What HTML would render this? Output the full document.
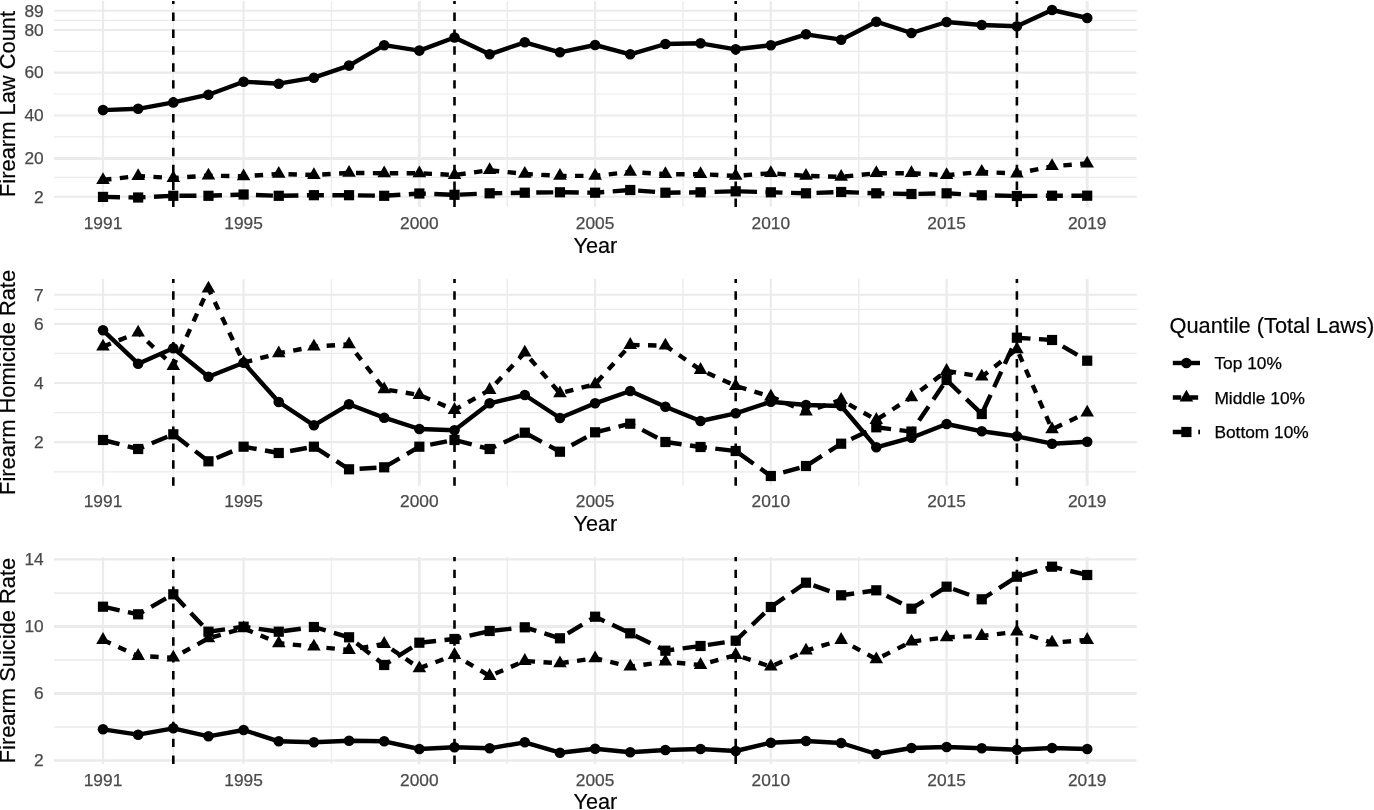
<!DOCTYPE html>
<html lang="en"><head><meta charset="utf-8"><title>Firearm laws, homicide and suicide rates by quantile</title>
<style>html,body{margin:0;padding:0;background:#fff}body{width:1374px;height:810px;overflow:hidden}svg{display:block}text{font-family:"Liberation Sans", sans-serif}.at{font-size:17.33px;fill:#4a4a4a;stroke:#4a4a4a;stroke-width:.25px}.tt{font-size:21.67px;fill:#000;stroke:#000;stroke-width:.2px}.gM{stroke:#ebebeb;fill:none}.ln{stroke:#000;stroke-width:4.40;fill:none;stroke-linejoin:round;stroke-linecap:butt}.vl{stroke:#000;stroke-width:2.6;fill:none;stroke-dasharray:8.45 8.45}.d2{stroke-dasharray:8.45 8.45}.d4{stroke-dasharray:17.00 8.50}</style></head><body>
<svg width="1374" height="810" viewBox="0 0 1374 810">
<rect width="1374" height="810" fill="#fff"/>
<g>
<path class="gM" stroke-width="2" d="M54 10.7H1136.7"/>
<path class="gM" stroke-width="1.2" d="M54 20.3H1136.7"/>
<path class="gM" stroke-width="2.2" d="M54 30H1136.7"/>
<path class="gM" stroke-width="1.2" d="M54 51.3H1136.7"/>
<path class="gM" stroke-width="2.2" d="M54 72.6H1136.7"/>
<path class="gM" stroke-width="1.2" d="M54 94H1136.7"/>
<path class="gM" stroke-width="2" d="M54 115.6H1136.7"/>
<path class="gM" stroke-width="1.2" d="M54 136.8H1136.7"/>
<path class="gM" stroke-width="3.2" d="M54 158.5H1136.7"/>
<path class="gM" stroke-width="1.2" d="M54 177.3H1136.7"/>
<path class="gM" stroke-width="2" d="M54 196.7H1136.7"/>
<path class="gM" stroke-width="1.3" d="M173.3 1V206.9"/>
<path class="gM" stroke-width="1.3" d="M331.48 1V206.9"/>
<path class="gM" stroke-width="1.3" d="M507.22 1V206.9"/>
<path class="gM" stroke-width="1.3" d="M682.98 1V206.9"/>
<path class="gM" stroke-width="1.3" d="M858.73 1V206.9"/>
<path class="gM" stroke-width="1.3" d="M1016.9 1V206.9"/>
<path class="gM" stroke-width="2.2" d="M103 1V206.9"/>
<path class="gM" stroke-width="2.2" d="M243.6 1V206.9"/>
<path class="gM" stroke-width="2.9" d="M419.35 1V206.9"/>
<path class="gM" stroke-width="2.2" d="M595.1 1V206.9"/>
<path class="gM" stroke-width="2.2" d="M770.85 1V206.9"/>
<path class="gM" stroke-width="2.2" d="M946.6 1V206.9"/>
<path class="gM" stroke-width="2.9" d="M1087.2 1V206.9"/>
<path class="vl" d="M173.3 206.9V1"/>
<path class="vl" d="M454.5 206.9V1"/>
<path class="vl" d="M735.7 206.9V1"/>
<path class="vl" d="M1016.9 206.9V1"/>
<polyline class="ln" points="103,110.1 138.15,108.8 173.3,102.4 208.45,94.7 243.6,81.7 278.75,83.7 313.9,77.7 349.05,65.6 384.2,45.2 419.35,50.6 454.5,37.5 489.65,54.3 524.8,42.3 559.95,52.3 595.1,45 630.25,54.3 665.4,44 700.55,43.3 735.7,49.3 770.85,45.3 806,34.3 841.15,39.7 876.3,21.7 911.45,33 946.6,22 981.75,25 1016.9,26.3 1052.05,10 1087.2,18"/>
<polyline class="ln d2" points="103,180 138.15,176 173.3,178 208.45,175.6 243.6,176.3 278.75,173.9 313.9,175 349.05,172.9 384.2,173.3 419.35,173.3 454.5,175 489.65,170.2 524.8,173.9 559.95,175.9 595.1,175.9 630.25,171.9 665.4,174.2 700.55,174.2 735.7,175.9 770.85,173.2 806,175.9 841.15,176.9 876.3,173.2 911.45,173.2 946.6,175.2 981.75,171.9 1016.9,173.5 1052.05,166.2 1087.2,163.5"/>
<polyline class="ln d4" points="103,196.9 138.15,197.5 173.3,195.8 208.45,195.8 243.6,194.5 278.75,195.8 313.9,195.2 349.05,195.2 384.2,195.8 419.35,193.5 454.5,194.8 489.65,193.3 524.8,192.7 559.95,192.3 595.1,192.7 630.25,190 665.4,192.7 700.55,192.3 735.7,191.3 770.85,192.3 806,193.3 841.15,192 876.3,193.3 911.45,194 946.6,193.3 981.75,195.3 1016.9,196 1052.05,195.7 1087.2,195.7"/>
<g fill="#000"><circle cx="103" cy="110.1" r="5.3"/><circle cx="138.15" cy="108.8" r="5.3"/><circle cx="173.3" cy="102.4" r="5.3"/><circle cx="208.45" cy="94.7" r="5.3"/><circle cx="243.6" cy="81.7" r="5.3"/><circle cx="278.75" cy="83.7" r="5.3"/><circle cx="313.9" cy="77.7" r="5.3"/><circle cx="349.05" cy="65.6" r="5.3"/><circle cx="384.2" cy="45.2" r="5.3"/><circle cx="419.35" cy="50.6" r="5.3"/><circle cx="454.5" cy="37.5" r="5.3"/><circle cx="489.65" cy="54.3" r="5.3"/><circle cx="524.8" cy="42.3" r="5.3"/><circle cx="559.95" cy="52.3" r="5.3"/><circle cx="595.1" cy="45" r="5.3"/><circle cx="630.25" cy="54.3" r="5.3"/><circle cx="665.4" cy="44" r="5.3"/><circle cx="700.55" cy="43.3" r="5.3"/><circle cx="735.7" cy="49.3" r="5.3"/><circle cx="770.85" cy="45.3" r="5.3"/><circle cx="806" cy="34.3" r="5.3"/><circle cx="841.15" cy="39.7" r="5.3"/><circle cx="876.3" cy="21.7" r="5.3"/><circle cx="911.45" cy="33" r="5.3"/><circle cx="946.6" cy="22" r="5.3"/><circle cx="981.75" cy="25" r="5.3"/><circle cx="1016.9" cy="26.3" r="5.3"/><circle cx="1052.05" cy="10" r="5.3"/><circle cx="1087.2" cy="18" r="5.3"/></g>
<g fill="#000"><path d="M103 172.16L109.79 183.92L96.21 183.92Z"/><path d="M138.15 168.16L144.94 179.92L131.36 179.92Z"/><path d="M173.3 170.16L180.09 181.92L166.51 181.92Z"/><path d="M208.45 167.76L215.24 179.52L201.66 179.52Z"/><path d="M243.6 168.46L250.39 180.22L236.81 180.22Z"/><path d="M278.75 166.06L285.54 177.82L271.96 177.82Z"/><path d="M313.9 167.16L320.69 178.92L307.11 178.92Z"/><path d="M349.05 165.06L355.84 176.82L342.26 176.82Z"/><path d="M384.2 165.46L390.99 177.22L377.41 177.22Z"/><path d="M419.35 165.46L426.14 177.22L412.56 177.22Z"/><path d="M454.5 167.16L461.29 178.92L447.71 178.92Z"/><path d="M489.65 162.36L496.44 174.12L482.86 174.12Z"/><path d="M524.8 166.06L531.59 177.82L518.01 177.82Z"/><path d="M559.95 168.06L566.74 179.82L553.16 179.82Z"/><path d="M595.1 168.06L601.89 179.82L588.31 179.82Z"/><path d="M630.25 164.06L637.04 175.82L623.46 175.82Z"/><path d="M665.4 166.36L672.19 178.12L658.61 178.12Z"/><path d="M700.55 166.36L707.34 178.12L693.76 178.12Z"/><path d="M735.7 168.06L742.49 179.82L728.91 179.82Z"/><path d="M770.85 165.36L777.64 177.12L764.06 177.12Z"/><path d="M806 168.06L812.79 179.82L799.21 179.82Z"/><path d="M841.15 169.06L847.94 180.82L834.36 180.82Z"/><path d="M876.3 165.36L883.09 177.12L869.51 177.12Z"/><path d="M911.45 165.36L918.24 177.12L904.66 177.12Z"/><path d="M946.6 167.36L953.39 179.12L939.81 179.12Z"/><path d="M981.75 164.06L988.54 175.82L974.96 175.82Z"/><path d="M1016.9 165.66L1023.69 177.42L1010.11 177.42Z"/><path d="M1052.05 158.36L1058.84 170.12L1045.26 170.12Z"/><path d="M1087.2 155.66L1093.99 167.42L1080.41 167.42Z"/></g>
<g fill="#000"><rect x="97.9" y="191.8" width="10.2" height="10.2"/><rect x="133.05" y="192.4" width="10.2" height="10.2"/><rect x="168.2" y="190.7" width="10.2" height="10.2"/><rect x="203.35" y="190.7" width="10.2" height="10.2"/><rect x="238.5" y="189.4" width="10.2" height="10.2"/><rect x="273.65" y="190.7" width="10.2" height="10.2"/><rect x="308.8" y="190.1" width="10.2" height="10.2"/><rect x="343.95" y="190.1" width="10.2" height="10.2"/><rect x="379.1" y="190.7" width="10.2" height="10.2"/><rect x="414.25" y="188.4" width="10.2" height="10.2"/><rect x="449.4" y="189.7" width="10.2" height="10.2"/><rect x="484.55" y="188.2" width="10.2" height="10.2"/><rect x="519.7" y="187.6" width="10.2" height="10.2"/><rect x="554.85" y="187.2" width="10.2" height="10.2"/><rect x="590" y="187.6" width="10.2" height="10.2"/><rect x="625.15" y="184.9" width="10.2" height="10.2"/><rect x="660.3" y="187.6" width="10.2" height="10.2"/><rect x="695.45" y="187.2" width="10.2" height="10.2"/><rect x="730.6" y="186.2" width="10.2" height="10.2"/><rect x="765.75" y="187.2" width="10.2" height="10.2"/><rect x="800.9" y="188.2" width="10.2" height="10.2"/><rect x="836.05" y="186.9" width="10.2" height="10.2"/><rect x="871.2" y="188.2" width="10.2" height="10.2"/><rect x="906.35" y="188.9" width="10.2" height="10.2"/><rect x="941.5" y="188.2" width="10.2" height="10.2"/><rect x="976.65" y="190.2" width="10.2" height="10.2"/><rect x="1011.8" y="190.9" width="10.2" height="10.2"/><rect x="1046.95" y="190.6" width="10.2" height="10.2"/><rect x="1082.1" y="190.6" width="10.2" height="10.2"/></g>
<text class="at" text-anchor="end" x="43.7" y="16.5">89</text>
<text class="at" text-anchor="end" x="43.7" y="35.8">80</text>
<text class="at" text-anchor="end" x="43.7" y="78.4">60</text>
<text class="at" text-anchor="end" x="43.7" y="121.4">40</text>
<text class="at" text-anchor="end" x="43.7" y="163.9">20</text>
<text class="at" text-anchor="end" x="43.7" y="202.5">2</text>
<text class="at" text-anchor="middle" x="103" y="228.75">1991</text>
<text class="at" text-anchor="middle" x="243.6" y="228.75">1995</text>
<text class="at" text-anchor="middle" x="419.35" y="228.75">2000</text>
<text class="at" text-anchor="middle" x="595.1" y="228.75">2005</text>
<text class="at" text-anchor="middle" x="770.85" y="228.75">2010</text>
<text class="at" text-anchor="middle" x="946.6" y="228.75">2015</text>
<text class="at" text-anchor="middle" x="1087.2" y="228.75">2019</text>
<text class="tt" text-anchor="middle" x="595.35" y="252.6">Year</text>
<text class="tt" style="font-size:21.9px" text-anchor="middle" transform="translate(14.8 103.95) rotate(-90)">Firearm Law Count</text>
</g>
<g>
<path class="gM" stroke-width="2.1" d="M54 294.7H1136.7"/>
<path class="gM" stroke-width="1.2" d="M54 309.4H1136.7"/>
<path class="gM" stroke-width="2.1" d="M54 323.9H1136.7"/>
<path class="gM" stroke-width="1.2" d="M54 353.4H1136.7"/>
<path class="gM" stroke-width="2.1" d="M54 383H1136.7"/>
<path class="gM" stroke-width="1.2" d="M54 412.6H1136.7"/>
<path class="gM" stroke-width="2.1" d="M54 442.1H1136.7"/>
<path class="gM" stroke-width="1.2" d="M54 471.9H1136.7"/>
<path class="gM" stroke-width="1.3" d="M173.3 279.1V485.7"/>
<path class="gM" stroke-width="1.3" d="M331.48 279.1V485.7"/>
<path class="gM" stroke-width="1.3" d="M507.22 279.1V485.7"/>
<path class="gM" stroke-width="1.3" d="M682.98 279.1V485.7"/>
<path class="gM" stroke-width="1.3" d="M858.73 279.1V485.7"/>
<path class="gM" stroke-width="1.3" d="M1016.9 279.1V485.7"/>
<path class="gM" stroke-width="2.2" d="M103 279.1V485.7"/>
<path class="gM" stroke-width="2.2" d="M243.6 279.1V485.7"/>
<path class="gM" stroke-width="2.9" d="M419.35 279.1V485.7"/>
<path class="gM" stroke-width="2.2" d="M595.1 279.1V485.7"/>
<path class="gM" stroke-width="2.2" d="M770.85 279.1V485.7"/>
<path class="gM" stroke-width="2.2" d="M946.6 279.1V485.7"/>
<path class="gM" stroke-width="2.9" d="M1087.2 279.1V485.7"/>
<path class="vl" d="M173.3 485.7V279.1"/>
<path class="vl" d="M454.5 485.7V279.1"/>
<path class="vl" d="M735.7 485.7V279.1"/>
<path class="vl" d="M1016.9 485.7V279.1"/>
<polyline class="ln" points="103,330.3 138.15,363.7 173.3,348.3 208.45,376.7 243.6,362.7 278.75,402 313.9,425.3 349.05,404.3 384.2,417.7 419.35,429 454.5,430.3 489.65,403.3 524.8,395 559.95,418 595.1,403.3 630.25,391 665.4,406.7 700.55,421 735.7,413.3 770.85,401.7 806,405 841.15,406 876.3,447.3 911.45,437.7 946.6,424 981.75,431.3 1016.9,436.3 1052.05,443.7 1087.2,441.7"/>
<polyline class="ln d2" points="103,346.66 138.15,332.66 173.3,365.96 208.45,288.66 243.6,362.66 278.75,353.26 313.9,346.66 349.05,344.26 384.2,389.26 419.35,394.96 454.5,409.96 489.65,389.96 524.8,352.66 559.95,393.26 595.1,384.26 630.25,344.96 665.4,345.66 700.55,369.96 735.7,385.96 770.85,396.66 806,411.66 841.15,399.96 876.3,419.96 911.45,397.26 946.6,370.96 981.75,376.66 1016.9,349.26 1052.05,429.26 1087.2,412.66"/>
<polyline class="ln d4" points="103,440 138.15,449 173.3,434.3 208.45,461.3 243.6,446.7 278.75,453 313.9,446.7 349.05,469.3 384.2,467.3 419.35,446.7 454.5,440 489.65,449 524.8,432.7 559.95,451.7 595.1,432.3 630.25,423.7 665.4,442 700.55,447 735.7,451 770.85,476 806,466 841.15,443.7 876.3,427.3 911.45,431.6 946.6,380 981.75,414 1016.9,337.7 1052.05,340 1087.2,360.7"/>
<g fill="#000"><circle cx="103" cy="330.3" r="5.3"/><circle cx="138.15" cy="363.7" r="5.3"/><circle cx="173.3" cy="348.3" r="5.3"/><circle cx="208.45" cy="376.7" r="5.3"/><circle cx="243.6" cy="362.7" r="5.3"/><circle cx="278.75" cy="402" r="5.3"/><circle cx="313.9" cy="425.3" r="5.3"/><circle cx="349.05" cy="404.3" r="5.3"/><circle cx="384.2" cy="417.7" r="5.3"/><circle cx="419.35" cy="429" r="5.3"/><circle cx="454.5" cy="430.3" r="5.3"/><circle cx="489.65" cy="403.3" r="5.3"/><circle cx="524.8" cy="395" r="5.3"/><circle cx="559.95" cy="418" r="5.3"/><circle cx="595.1" cy="403.3" r="5.3"/><circle cx="630.25" cy="391" r="5.3"/><circle cx="665.4" cy="406.7" r="5.3"/><circle cx="700.55" cy="421" r="5.3"/><circle cx="735.7" cy="413.3" r="5.3"/><circle cx="770.85" cy="401.7" r="5.3"/><circle cx="806" cy="405" r="5.3"/><circle cx="841.15" cy="406" r="5.3"/><circle cx="876.3" cy="447.3" r="5.3"/><circle cx="911.45" cy="437.7" r="5.3"/><circle cx="946.6" cy="424" r="5.3"/><circle cx="981.75" cy="431.3" r="5.3"/><circle cx="1016.9" cy="436.3" r="5.3"/><circle cx="1052.05" cy="443.7" r="5.3"/><circle cx="1087.2" cy="441.7" r="5.3"/></g>
<g fill="#000"><path d="M103 338.82L109.79 350.58L96.21 350.58Z"/><path d="M138.15 324.82L144.94 336.58L131.36 336.58Z"/><path d="M173.3 358.12L180.09 369.88L166.51 369.88Z"/><path d="M208.45 280.82L215.24 292.58L201.66 292.58Z"/><path d="M243.6 354.82L250.39 366.58L236.81 366.58Z"/><path d="M278.75 345.42L285.54 357.18L271.96 357.18Z"/><path d="M313.9 338.82L320.69 350.58L307.11 350.58Z"/><path d="M349.05 336.42L355.84 348.18L342.26 348.18Z"/><path d="M384.2 381.42L390.99 393.18L377.41 393.18Z"/><path d="M419.35 387.12L426.14 398.88L412.56 398.88Z"/><path d="M454.5 402.12L461.29 413.88L447.71 413.88Z"/><path d="M489.65 382.12L496.44 393.88L482.86 393.88Z"/><path d="M524.8 344.82L531.59 356.58L518.01 356.58Z"/><path d="M559.95 385.42L566.74 397.18L553.16 397.18Z"/><path d="M595.1 376.42L601.89 388.18L588.31 388.18Z"/><path d="M630.25 337.12L637.04 348.88L623.46 348.88Z"/><path d="M665.4 337.82L672.19 349.58L658.61 349.58Z"/><path d="M700.55 362.12L707.34 373.88L693.76 373.88Z"/><path d="M735.7 378.12L742.49 389.88L728.91 389.88Z"/><path d="M770.85 388.82L777.64 400.58L764.06 400.58Z"/><path d="M806 403.82L812.79 415.58L799.21 415.58Z"/><path d="M841.15 392.12L847.94 403.88L834.36 403.88Z"/><path d="M876.3 412.12L883.09 423.88L869.51 423.88Z"/><path d="M911.45 389.42L918.24 401.18L904.66 401.18Z"/><path d="M946.6 363.12L953.39 374.88L939.81 374.88Z"/><path d="M981.75 368.82L988.54 380.58L974.96 380.58Z"/><path d="M1016.9 341.42L1023.69 353.18L1010.11 353.18Z"/><path d="M1052.05 421.42L1058.84 433.18L1045.26 433.18Z"/><path d="M1087.2 404.82L1093.99 416.58L1080.41 416.58Z"/></g>
<g fill="#000"><rect x="97.9" y="434.9" width="10.2" height="10.2"/><rect x="133.05" y="443.9" width="10.2" height="10.2"/><rect x="168.2" y="429.2" width="10.2" height="10.2"/><rect x="203.35" y="456.2" width="10.2" height="10.2"/><rect x="238.5" y="441.6" width="10.2" height="10.2"/><rect x="273.65" y="447.9" width="10.2" height="10.2"/><rect x="308.8" y="441.6" width="10.2" height="10.2"/><rect x="343.95" y="464.2" width="10.2" height="10.2"/><rect x="379.1" y="462.2" width="10.2" height="10.2"/><rect x="414.25" y="441.6" width="10.2" height="10.2"/><rect x="449.4" y="434.9" width="10.2" height="10.2"/><rect x="484.55" y="443.9" width="10.2" height="10.2"/><rect x="519.7" y="427.6" width="10.2" height="10.2"/><rect x="554.85" y="446.6" width="10.2" height="10.2"/><rect x="590" y="427.2" width="10.2" height="10.2"/><rect x="625.15" y="418.6" width="10.2" height="10.2"/><rect x="660.3" y="436.9" width="10.2" height="10.2"/><rect x="695.45" y="441.9" width="10.2" height="10.2"/><rect x="730.6" y="445.9" width="10.2" height="10.2"/><rect x="765.75" y="470.9" width="10.2" height="10.2"/><rect x="800.9" y="460.9" width="10.2" height="10.2"/><rect x="836.05" y="438.6" width="10.2" height="10.2"/><rect x="871.2" y="422.2" width="10.2" height="10.2"/><rect x="906.35" y="426.5" width="10.2" height="10.2"/><rect x="941.5" y="374.9" width="10.2" height="10.2"/><rect x="976.65" y="408.9" width="10.2" height="10.2"/><rect x="1011.8" y="332.6" width="10.2" height="10.2"/><rect x="1046.95" y="334.9" width="10.2" height="10.2"/><rect x="1082.1" y="355.6" width="10.2" height="10.2"/></g>
<text class="at" text-anchor="end" x="43.7" y="300.5">7</text>
<text class="at" text-anchor="end" x="43.7" y="329.7">6</text>
<text class="at" text-anchor="end" x="43.7" y="388.8">4</text>
<text class="at" text-anchor="end" x="43.7" y="447.9">2</text>
<text class="at" text-anchor="middle" x="103" y="507">1991</text>
<text class="at" text-anchor="middle" x="243.6" y="507">1995</text>
<text class="at" text-anchor="middle" x="419.35" y="507">2000</text>
<text class="at" text-anchor="middle" x="595.1" y="507">2005</text>
<text class="at" text-anchor="middle" x="770.85" y="507">2010</text>
<text class="at" text-anchor="middle" x="946.6" y="507">2015</text>
<text class="at" text-anchor="middle" x="1087.2" y="507">2019</text>
<text class="tt" text-anchor="middle" x="595.35" y="531.45">Year</text>
<text class="tt" style="font-size:21.9px" text-anchor="middle" transform="translate(14.8 382.4) rotate(-90)">Firearm Homicide Rate</text>
</g>
<g>
<path class="gM" stroke-width="2.2" d="M54 559.4H1136.7"/>
<path class="gM" stroke-width="1.6" d="M54 593.1H1136.7"/>
<path class="gM" stroke-width="2.9" d="M54 626.5H1136.7"/>
<path class="gM" stroke-width="1.5" d="M54 659.9H1136.7"/>
<path class="gM" stroke-width="2.9" d="M54 693.5H1136.7"/>
<path class="gM" stroke-width="1.6" d="M54 727H1136.7"/>
<path class="gM" stroke-width="2.7" d="M54 760.5H1136.7"/>
<path class="gM" stroke-width="1.3" d="M173.3 557.1V764"/>
<path class="gM" stroke-width="1.3" d="M331.48 557.1V764"/>
<path class="gM" stroke-width="1.3" d="M507.22 557.1V764"/>
<path class="gM" stroke-width="1.3" d="M682.98 557.1V764"/>
<path class="gM" stroke-width="1.3" d="M858.73 557.1V764"/>
<path class="gM" stroke-width="1.3" d="M1016.9 557.1V764"/>
<path class="gM" stroke-width="2.2" d="M103 557.1V764"/>
<path class="gM" stroke-width="2.2" d="M243.6 557.1V764"/>
<path class="gM" stroke-width="2.9" d="M419.35 557.1V764"/>
<path class="gM" stroke-width="2.2" d="M595.1 557.1V764"/>
<path class="gM" stroke-width="2.2" d="M770.85 557.1V764"/>
<path class="gM" stroke-width="2.2" d="M946.6 557.1V764"/>
<path class="gM" stroke-width="2.9" d="M1087.2 557.1V764"/>
<path class="vl" d="M173.3 764V557.1"/>
<path class="vl" d="M454.5 764V557.1"/>
<path class="vl" d="M735.7 764V557.1"/>
<path class="vl" d="M1016.9 764V557.1"/>
<polyline class="ln" points="103,729.3 138.15,734.7 173.3,728.3 208.45,736.3 243.6,730 278.75,741.3 313.9,742.3 349.05,740.7 384.2,741.3 419.35,749 454.5,747.3 489.65,748.3 524.8,742.3 559.95,752.7 595.1,748.7 630.25,752.3 665.4,750 700.55,749 735.7,751 770.85,742.7 806,741 841.15,743 876.3,754 911.45,748 946.6,747 981.75,748.3 1016.9,749.7 1052.05,748 1087.2,749"/>
<polyline class="ln d2" points="103,639.96 138.15,655.96 173.3,657.66 208.45,638.26 243.6,628.26 278.75,643.26 313.9,646.66 349.05,649.96 384.2,643.96 419.35,668.26 454.5,654.96 489.65,675.96 524.8,660.96 559.95,663.26 595.1,658.26 630.25,666.66 665.4,661.66 700.55,664.96 735.7,654.96 770.85,666.66 806,650.66 841.15,639.96 876.3,659.26 911.45,641.66 946.6,637.26 981.75,635.96 1016.9,631.66 1052.05,642.66 1087.2,639.96"/>
<polyline class="ln d4" points="103,606.7 138.15,614.3 173.3,594.3 208.45,631.7 243.6,626.7 278.75,631.7 313.9,627 349.05,637.3 384.2,665 419.35,642.7 454.5,639 489.65,631 524.8,627.3 559.95,638.3 595.1,616.7 630.25,633.3 665.4,650.7 700.55,646 735.7,640.7 770.85,607 806,582.7 841.15,595.3 876.3,590.3 911.45,608.7 946.6,586.7 981.75,599.3 1016.9,576.7 1052.05,566.7 1087.2,575"/>
<g fill="#000"><circle cx="103" cy="729.3" r="5.3"/><circle cx="138.15" cy="734.7" r="5.3"/><circle cx="173.3" cy="728.3" r="5.3"/><circle cx="208.45" cy="736.3" r="5.3"/><circle cx="243.6" cy="730" r="5.3"/><circle cx="278.75" cy="741.3" r="5.3"/><circle cx="313.9" cy="742.3" r="5.3"/><circle cx="349.05" cy="740.7" r="5.3"/><circle cx="384.2" cy="741.3" r="5.3"/><circle cx="419.35" cy="749" r="5.3"/><circle cx="454.5" cy="747.3" r="5.3"/><circle cx="489.65" cy="748.3" r="5.3"/><circle cx="524.8" cy="742.3" r="5.3"/><circle cx="559.95" cy="752.7" r="5.3"/><circle cx="595.1" cy="748.7" r="5.3"/><circle cx="630.25" cy="752.3" r="5.3"/><circle cx="665.4" cy="750" r="5.3"/><circle cx="700.55" cy="749" r="5.3"/><circle cx="735.7" cy="751" r="5.3"/><circle cx="770.85" cy="742.7" r="5.3"/><circle cx="806" cy="741" r="5.3"/><circle cx="841.15" cy="743" r="5.3"/><circle cx="876.3" cy="754" r="5.3"/><circle cx="911.45" cy="748" r="5.3"/><circle cx="946.6" cy="747" r="5.3"/><circle cx="981.75" cy="748.3" r="5.3"/><circle cx="1016.9" cy="749.7" r="5.3"/><circle cx="1052.05" cy="748" r="5.3"/><circle cx="1087.2" cy="749" r="5.3"/></g>
<g fill="#000"><path d="M103 632.12L109.79 643.88L96.21 643.88Z"/><path d="M138.15 648.12L144.94 659.88L131.36 659.88Z"/><path d="M173.3 649.82L180.09 661.58L166.51 661.58Z"/><path d="M208.45 630.42L215.24 642.18L201.66 642.18Z"/><path d="M243.6 620.42L250.39 632.18L236.81 632.18Z"/><path d="M278.75 635.42L285.54 647.18L271.96 647.18Z"/><path d="M313.9 638.82L320.69 650.58L307.11 650.58Z"/><path d="M349.05 642.12L355.84 653.88L342.26 653.88Z"/><path d="M384.2 636.12L390.99 647.88L377.41 647.88Z"/><path d="M419.35 660.42L426.14 672.18L412.56 672.18Z"/><path d="M454.5 647.12L461.29 658.88L447.71 658.88Z"/><path d="M489.65 668.12L496.44 679.88L482.86 679.88Z"/><path d="M524.8 653.12L531.59 664.88L518.01 664.88Z"/><path d="M559.95 655.42L566.74 667.18L553.16 667.18Z"/><path d="M595.1 650.42L601.89 662.18L588.31 662.18Z"/><path d="M630.25 658.82L637.04 670.58L623.46 670.58Z"/><path d="M665.4 653.82L672.19 665.58L658.61 665.58Z"/><path d="M700.55 657.12L707.34 668.88L693.76 668.88Z"/><path d="M735.7 647.12L742.49 658.88L728.91 658.88Z"/><path d="M770.85 658.82L777.64 670.58L764.06 670.58Z"/><path d="M806 642.82L812.79 654.58L799.21 654.58Z"/><path d="M841.15 632.12L847.94 643.88L834.36 643.88Z"/><path d="M876.3 651.42L883.09 663.18L869.51 663.18Z"/><path d="M911.45 633.82L918.24 645.58L904.66 645.58Z"/><path d="M946.6 629.42L953.39 641.18L939.81 641.18Z"/><path d="M981.75 628.12L988.54 639.88L974.96 639.88Z"/><path d="M1016.9 623.82L1023.69 635.58L1010.11 635.58Z"/><path d="M1052.05 634.82L1058.84 646.58L1045.26 646.58Z"/><path d="M1087.2 632.12L1093.99 643.88L1080.41 643.88Z"/></g>
<g fill="#000"><rect x="97.9" y="601.6" width="10.2" height="10.2"/><rect x="133.05" y="609.2" width="10.2" height="10.2"/><rect x="168.2" y="589.2" width="10.2" height="10.2"/><rect x="203.35" y="626.6" width="10.2" height="10.2"/><rect x="238.5" y="621.6" width="10.2" height="10.2"/><rect x="273.65" y="626.6" width="10.2" height="10.2"/><rect x="308.8" y="621.9" width="10.2" height="10.2"/><rect x="343.95" y="632.2" width="10.2" height="10.2"/><rect x="379.1" y="659.9" width="10.2" height="10.2"/><rect x="414.25" y="637.6" width="10.2" height="10.2"/><rect x="449.4" y="633.9" width="10.2" height="10.2"/><rect x="484.55" y="625.9" width="10.2" height="10.2"/><rect x="519.7" y="622.2" width="10.2" height="10.2"/><rect x="554.85" y="633.2" width="10.2" height="10.2"/><rect x="590" y="611.6" width="10.2" height="10.2"/><rect x="625.15" y="628.2" width="10.2" height="10.2"/><rect x="660.3" y="645.6" width="10.2" height="10.2"/><rect x="695.45" y="640.9" width="10.2" height="10.2"/><rect x="730.6" y="635.6" width="10.2" height="10.2"/><rect x="765.75" y="601.9" width="10.2" height="10.2"/><rect x="800.9" y="577.6" width="10.2" height="10.2"/><rect x="836.05" y="590.2" width="10.2" height="10.2"/><rect x="871.2" y="585.2" width="10.2" height="10.2"/><rect x="906.35" y="603.6" width="10.2" height="10.2"/><rect x="941.5" y="581.6" width="10.2" height="10.2"/><rect x="976.65" y="594.2" width="10.2" height="10.2"/><rect x="1011.8" y="571.6" width="10.2" height="10.2"/><rect x="1046.95" y="561.6" width="10.2" height="10.2"/><rect x="1082.1" y="569.9" width="10.2" height="10.2"/></g>
<text class="at" text-anchor="end" x="43.7" y="565.2">14</text>
<text class="at" text-anchor="end" x="43.7" y="632">10</text>
<text class="at" text-anchor="end" x="43.7" y="698.9">6</text>
<text class="at" text-anchor="end" x="43.7" y="766.3">2</text>
<text class="at" text-anchor="middle" x="103" y="785.75">1991</text>
<text class="at" text-anchor="middle" x="243.6" y="785.75">1995</text>
<text class="at" text-anchor="middle" x="419.35" y="785.75">2000</text>
<text class="at" text-anchor="middle" x="595.1" y="785.75">2005</text>
<text class="at" text-anchor="middle" x="770.85" y="785.75">2010</text>
<text class="at" text-anchor="middle" x="946.6" y="785.75">2015</text>
<text class="at" text-anchor="middle" x="1087.2" y="785.75">2019</text>
<text class="tt" text-anchor="middle" x="595.35" y="809.2">Year</text>
<text class="tt" style="font-size:21.9px" text-anchor="middle" transform="translate(14.8 660.55) rotate(-90)">Firearm Suicide Rate</text>
</g>
<g>
<text class="tt" style="font-size:21.8px" x="1169.5" y="332.6">Quantile (Total Laws)</text>
<path class="ln" d="M1172.8 363H1200"/>
<g fill="#000"><circle cx="1186.4" cy="363" r="5.3"/></g>
<text class="at" style="fill:#000;stroke:#000" x="1214.4" y="369.4">Top 10%</text>
<path class="ln d2" d="M1172.8 397.5H1200"/>
<g fill="#000"><path d="M1186.4 389.66L1193.19 401.42L1179.61 401.42Z"/></g>
<text class="at" style="fill:#000;stroke:#000" x="1214.4" y="403.9">Middle 10%</text>
<path class="ln d4" d="M1172.8 432H1200"/>
<g fill="#000"><rect x="1181.3" y="426.9" width="10.2" height="10.2"/></g>
<text class="at" style="fill:#000;stroke:#000" x="1214.4" y="438.4">Bottom 10%</text>
</g>
</svg></body></html>
